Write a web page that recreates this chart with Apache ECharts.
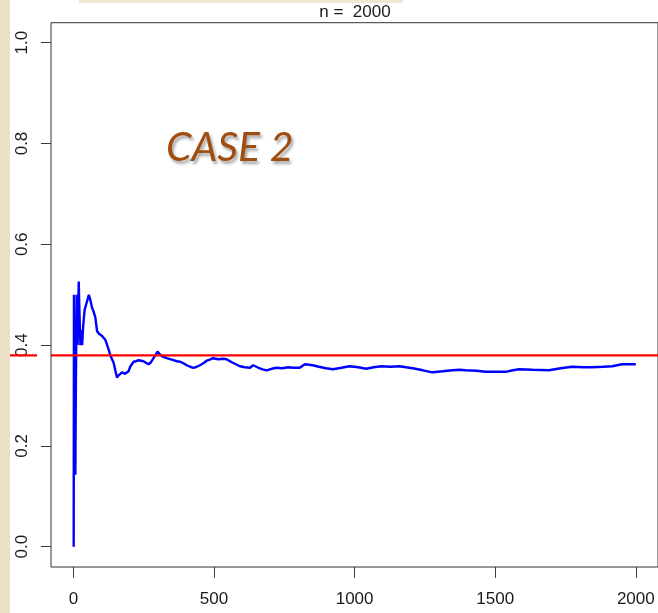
<!DOCTYPE html>
<html>
<head>
<meta charset="utf-8">
<script src="https://cdn.jsdelivr.net/npm/echarts@6/dist/echarts.min.js"></script>
<style>
html,body{margin:0;padding:0;background:#ffffff;}
#chart{width:658px;height:613px;}
</style>
</head>
<body>
<div id="chart"></div>
<script>
// ---- data ----
const titleText = 'n =  2000';
const caseLabel = 'CASE 2';
const trials = [1,2,3,4,5,6,7,8,9,10,11,12,13,14,15,16,17,18,19,21,23,25,28,31,35,40,45,50,55,60,66,72,78,84,90,96,102,108,114,120,126,131,137,143,149,155,161,167,173,178,184,190,196,202,208,214,223,232,241,249,258,267,276,285,292,299,307,314,323,332,344,356,368,380,391,403,415,427,439,450,462,474,485,497,515,533,545,563,578,592,610,628,639,658,673,687,705,722,743,763,783,805,823,838,851,873,898,923,953,982,1013,1041,1068,1095,1128,1160,1183,1207,1243,1277,1313,1348,1373,1395,1433,1466,1503,1537,1563,1585,1633,1691,1733,1774,1813,1845,1883,1916,1951,2000];
const proportion = [0,0.5,0.333,0.25,0.2,0.167,0.143,0.25,0.333,0.4,0.455,0.5,0.462,0.429,0.4,0.438,0.471,0.5,0.526,0.476,0.435,0.4,0.43,0.40,0.44,0.47,0.48,0.49,0.5,0.49,0.475,0.466,0.455,0.428,0.423,0.42,0.418,0.416,0.41,0.40,0.39,0.38,0.377,0.365,0.35,0.336,0.34,0.343,0.346,0.345,0.343,0.341,0.348,0.357,0.362,0.367,0.368,0.37,0.369,0.368,0.365,0.362,0.366,0.374,0.38,0.387,0.382,0.378,0.376,0.374,0.372,0.37,0.368,0.367,0.364,0.36,0.357,0.355,0.357,0.36,0.364,0.369,0.371,0.374,0.372,0.373,0.372,0.366,0.362,0.358,0.356,0.355,0.36,0.355,0.352,0.35,0.353,0.355,0.354,0.356,0.355,0.355,0.362,0.361,0.36,0.357,0.354,0.352,0.355,0.358,0.356,0.353,0.356,0.358,0.357,0.358,0.356,0.354,0.35,0.346,0.348,0.35,0.351,0.35,0.349,0.347,0.347,0.347,0.35,0.352,0.351,0.35,0.354,0.357,0.356,0.356,0.357,0.358,0.362,0.362];
const refValue = 0.38;
const xTickStep = 500;
const yTickStep = 0.2;

// ---- chart ----
const chart = echarts.init(document.getElementById('chart'), null, {renderer: 'canvas'});
const seriesData = trials.map((t, i) => [t, proportion[i]]);
const tickStyle = {color: '#3a3a3a', width: 1};
const labelStyle = {fontFamily: '"Liberation Sans", Arial, sans-serif', fontSize: 17, color: '#1a1a1a'};

const option = {
  animation: false,
  backgroundColor: '#ffffff',
  graphic: [
    {type: 'rect', left: 0, top: 0, shape: {width: 10, height: 613}, style: {fill: '#ece0c6'}, z: 0},
    {type: 'rect', left: 79, top: 0, shape: {width: 324, height: 3}, style: {fill: '#f1e6d0'}, z: 0},
    {type: 'text', style: {text: titleText, font: '17px "Liberation Sans", Arial, sans-serif', fill: '#1a1a1a', x: 355, y: 4, textAlign: 'center'}},
    {type: 'text', left: 166, top: 127, z: 50, style: {
      text: caseLabel, font: 'italic 41px Lato, "Open Sans", sans-serif', fill: '#a04d12',
      textShadowColor: 'rgba(0,0,0,0.35)', textShadowBlur: 3, textShadowOffsetX: 2, textShadowOffsetY: 3
    }}
  ],
  grid: [
    {left: 51, right: 0, top: 22.7, bottom: 46, show: true, borderColor: '#333333', borderWidth: 1, backgroundColor: 'transparent'},
    {left: 73.4, right: 22.2, top: 42.7, bottom: 66.3},
    {left: 10, width: 27, top: 22.7, bottom: 46}
  ],
  xAxis: [
    {gridIndex: 0, type: 'value', min: -80, max: 2080, show: false},
    {gridIndex: 1, type: 'value', min: 0, max: 2000, interval: xTickStep, offset: 20.2,
      axisLine: {show: false, onZero: false}, splitLine: {show: false},
      axisTick: {show: true, length: 11, lineStyle: tickStyle},
      axisLabel: Object.assign({margin: 24, formatter: v => String(v)}, labelStyle)},
    {gridIndex: 2, type: 'value', min: 0, max: 1, show: false}
  ],
  yAxis: [
    {gridIndex: 0, type: 'value', min: -0.04, max: 1.04, show: false},
    {gridIndex: 1, type: 'value', min: 0, max: 1, interval: yTickStep, offset: 22.4,
      axisLine: {show: false, onZero: false}, splitLine: {show: false},
      axisTick: {show: true, length: 10, lineStyle: tickStyle},
      axisLabel: Object.assign({margin: 20, rotate: 90, formatter: v => v.toFixed(1)}, labelStyle)},
    {gridIndex: 2, type: 'value', min: -0.04, max: 1.04, show: false}
  ],
  series: [
    {type: 'line', xAxisIndex: 1, yAxisIndex: 1, data: seriesData, showSymbol: false, symbol: 'none',
      lineStyle: {color: '#0000ff', width: 2.4}, z: 3},
    {type: 'line', xAxisIndex: 0, yAxisIndex: 0, data: [[-80, refValue], [2080, refValue]], showSymbol: false, symbol: 'none',
      lineStyle: {color: '#ff0000', width: 2.4}, z: 4},
    {type: 'line', xAxisIndex: 2, yAxisIndex: 2, data: [[0, refValue], [1, refValue]], showSymbol: false, symbol: 'none',
      lineStyle: {color: '#ff0000', width: 2.4}, z: 4}
  ]
};
chart.setOption(option);
</script>
</body>
</html>
